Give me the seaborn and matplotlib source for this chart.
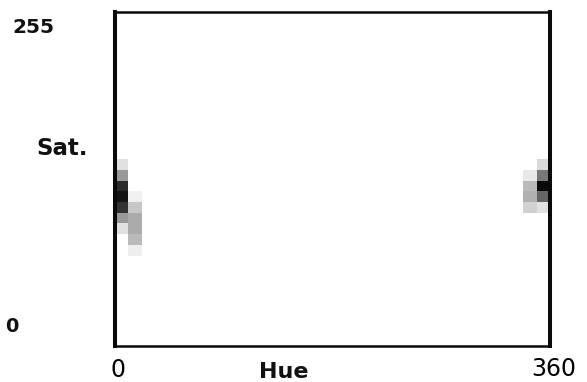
import numpy as np
import pandas as pd
import matplotlib
matplotlib.use("Agg")
import matplotlib.pyplot as plt
import seaborn as sns

# ---- data: 2-D Hue/Saturation histogram (non-zero cells only) ----
n_hue_bins = 31          # hue 0..360
n_sat_bins = 32          # saturation 0..255
hue_bin = [0, 0, 0, 0, 0, 0, 0,
           1, 1, 1, 1, 1, 1,
           29, 29, 29, 29,
           30, 30, 30, 30, 30]
sat_bin = [17, 16, 15, 14, 13, 12, 11,
           14, 13, 12, 11, 10, 9,
           16, 15, 14, 13,
           17, 16, 15, 14, 13]
count = [12, 40, 83, 92, 80, 40, 12,
         6, 22, 33, 33, 27, 7,
         9, 27, 31, 18,
         15, 53, 96, 60, 12]

hue_labels = ["0", "360"]
sat_labels = ["0", "255"]

# ---- build matrix ----
df = pd.DataFrame({"hue": hue_bin, "sat": sat_bin, "count": count})
mat = (df.pivot_table(index="sat", columns="hue", values="count", aggfunc="sum")
         .reindex(index=range(n_sat_bins - 1, -1, -1), columns=range(n_hue_bins))
         .fillna(0))

W, H, DPI = 587, 382, 100
fig = plt.figure(figsize=(W / DPI, H / DPI), dpi=DPI)
ax = fig.add_axes([115.5 / W, 1 - 345.5 / H, 434.3 / W, 333.8 / H])

sns.heatmap(mat, ax=ax, cmap="gray_r", vmin=0, vmax=100, cbar=False,
            xticklabels=False, yticklabels=False)
ax.set_xlim(0.1, 30.9)
ax.set_ylim(31.4, 0.21)
ax.set_xlabel("")
ax.set_ylabel("")
ax.tick_params(length=0)

for side, s in ax.spines.items():
    s.set_visible(True)
    s.set_color("#0a0a0a")
    s.set_linewidth(2.9 if side in ("left", "right") else 1.8)

def px(x, y):
    return x / W, 1 - y / H

fig.text(*px(33, 33), sat_labels[1], ha="center", va="baseline",
         family="DejaVu Sans", weight="bold", fontsize=14.5, color="#111")
fig.text(*px(62, 155), "Sat.", ha="center", va="baseline",
         family="DejaVu Sans", weight="bold", fontsize=16.5, color="#111")
fig.text(*px(12, 332), sat_labels[0], ha="center", va="baseline",
         family="DejaVu Sans", weight="bold", fontsize=14, color="#111")
fig.text(*px(118, 377), hue_labels[0], ha="center", va="baseline",
         family="DejaVu Sans", fontsize=17)
fig.text(*px(284, 378), "Hue", ha="center", va="baseline",
         family="DejaVu Sans", weight="bold", fontsize=16, color="#111")
fig.text(*px(554, 376), hue_labels[1], ha="center", va="baseline",
         family="DejaVu Sans", fontsize=17)

fig.savefig("out.png", dpi=DPI)
